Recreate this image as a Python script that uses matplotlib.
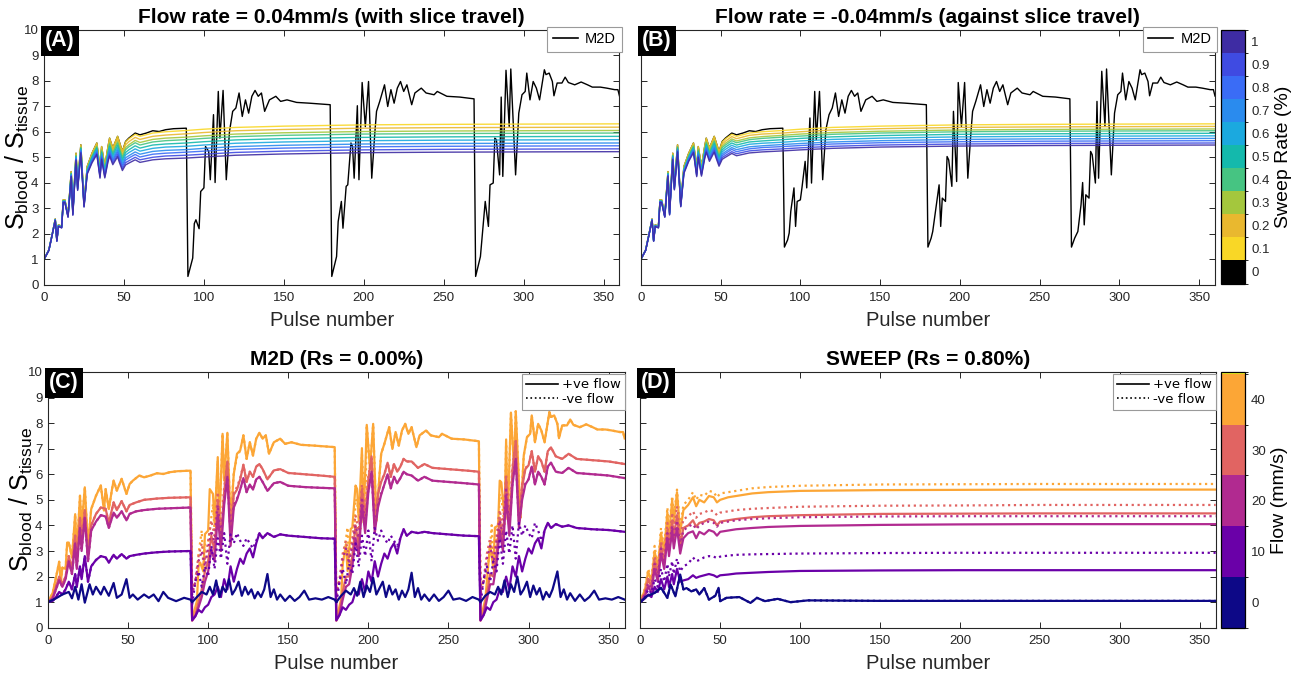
import matplotlib
matplotlib.use("Agg")
import numpy as np
import matplotlib.pyplot as plt
from matplotlib.colors import ListedColormap, BoundaryNorm
from matplotlib.cm import ScalarMappable
from matplotlib.lines import Line2D

# ---------------- data ----------------

# M2D, +0.04 mm/s (panel A black line)
m2d_a_x = [0, 3, 5, 7, 8, 9, 11, 12, 13, 15, 17, 18, 20, 21, 23, 25, 27, 30, 33, 35, 36, 38, 40, 41, 43,
           46, 47, 49, 51, 53, 57, 60, 64, 68, 72, 76, 81, 89,
           90, 93, 94, 95, 97, 98, 100, 101, 103, 104, 106, 107, 109, 110, 112, 114, 116, 118, 120, 122,
           124, 126, 128, 130, 132, 134, 136, 138, 141, 145, 148, 152, 158, 166, 179,
           180, 183, 184, 186, 187, 189, 190, 192, 193, 194, 196, 197, 199, 201, 203, 205, 207, 208, 210,
           213, 215, 217, 219, 221, 223, 225, 227, 230, 232, 236, 239, 244, 246, 252, 260, 269,
           270, 273, 275, 276, 278, 279, 281, 282, 283, 285, 286, 287, 289, 291, 292, 295, 297, 299, 301,
           302, 304, 306, 308, 310, 313, 314, 316, 318, 319, 321, 324, 326, 328, 332, 336, 340, 343, 348,
           352, 357, 359, 360]
m2d_a_y = [1.00, 1.37, 1.96, 2.58, 1.76, 2.35, 2.30, 3.33, 3.33, 2.75, 4.44, 2.88, 5.16, 3.92, 5.49, 3.20,
           4.64, 5.16, 5.56, 4.58, 5.42, 4.64, 5.42, 5.75, 5.36, 5.82, 5.62, 5.23, 5.62, 5.75, 5.95, 5.88,
           5.95, 6.04, 6.01, 6.08, 6.12, 6.14,
           0.33, 1.05, 2.40, 2.55, 2.20, 3.66, 3.80, 5.42, 5.23, 4.12, 6.67, 4.01, 7.58, 5.75, 7.62, 4.12,
           6.01, 6.80, 6.93, 7.52, 6.60, 7.25, 6.73, 7.39, 7.62, 7.39, 7.52, 6.80, 7.25, 7.39, 7.19, 7.25,
           7.15, 7.12, 7.06,
           0.33, 1.11, 2.48, 3.27, 2.22, 3.86, 3.92, 5.56, 5.42, 4.18, 7.02, 4.12, 7.93, 6.20, 7.97, 4.18,
           6.01, 6.80, 7.19, 7.84, 6.99, 7.65, 7.12, 7.71, 7.97, 7.58, 7.84, 7.06, 7.52, 7.71, 7.52, 7.45,
           7.58, 7.39, 7.36, 7.29,
           0.33, 1.11, 2.55, 3.27, 2.29, 3.92, 3.99, 5.75, 5.69, 4.31, 7.36, 4.25, 8.41, 6.21, 8.46, 4.31,
           6.73, 7.45, 7.58, 8.30, 7.25, 7.97, 7.71, 7.25, 8.43, 8.24, 8.30, 7.97, 7.41, 7.91, 7.91, 8.14,
           7.93, 7.84, 7.95, 7.84, 7.75, 7.75, 7.71, 7.65, 7.65, 7.40]

# M2D, -0.04 mm/s (panel B black line)
m2d_b_x = [0, 3, 5, 7, 8, 9, 11, 12, 13, 15, 17, 18, 20, 21, 23, 25, 27, 30, 33, 35, 36, 38, 40, 41, 43,
           46, 47, 49, 51, 53, 57, 60, 64, 68, 72, 76, 81, 89,
           90, 92, 93, 94, 96, 97, 98, 100, 101, 103, 104, 106, 107, 109, 110, 112, 114, 116, 118, 120, 122,
           124, 126, 128, 130, 132, 134, 136, 138, 141, 145, 148, 152, 158, 166, 179,
           180, 182, 183, 185, 187, 188, 189, 191, 192, 193, 195, 196, 198, 199, 201, 203, 205, 207, 208, 210,
           213, 215, 217, 219, 221, 223, 225, 227, 230, 232, 236, 239, 244, 246, 252, 260, 269,
           270, 272, 274, 276, 277, 278, 279, 281, 282, 283, 285, 286, 287, 289, 291, 292, 295, 297, 299, 301,
           302, 304, 306, 308, 310, 313, 314, 316, 318, 319, 321, 324, 326, 328, 332, 336, 340, 343, 348,
           352, 357, 359, 360]
m2d_b_y = [1.00, 1.37, 1.96, 2.58, 1.76, 2.35, 2.30, 3.33, 3.33, 2.75, 4.44, 2.88, 5.16, 3.92, 5.49, 3.20,
           4.64, 5.16, 5.56, 4.58, 5.42, 4.64, 5.42, 5.75, 5.36, 5.82, 5.62, 5.23, 5.62, 5.75, 5.95, 5.88,
           5.95, 6.04, 6.01, 6.08, 6.12, 6.14,
           1.48, 1.76, 2.03, 2.88, 3.80, 2.29, 3.27, 3.33, 3.80, 4.84, 3.80, 6.54, 3.99, 7.58, 5.69, 7.58,
           4.12, 6.08, 6.67, 6.93, 7.52, 6.60, 7.25, 6.73, 7.39, 7.62, 7.39, 7.52, 6.80, 7.25, 7.39, 7.19,
           7.25, 7.15, 7.12, 7.06,
           1.48, 1.83, 2.09, 3.00, 3.92, 2.29, 3.40, 3.27, 5.03, 4.90, 3.86, 6.80, 4.05, 7.93, 6.21, 7.93,
           4.18, 6.01, 6.80, 7.19, 7.84, 6.99, 7.65, 7.12, 7.71, 7.97, 7.58, 7.84, 7.06, 7.52, 7.71, 7.52,
           7.45, 7.58, 7.39, 7.36, 7.29,
           1.48, 1.83, 2.09, 3.14, 4.01, 2.35, 3.53, 3.40, 5.23, 5.10, 3.99, 7.19, 4.18, 8.37, 6.21, 8.46,
           4.31, 6.73, 7.45, 7.58, 8.30, 7.25, 7.97, 7.71, 7.25, 8.43, 8.24, 8.30, 7.97, 7.41, 7.91, 7.91,
           8.14, 7.93, 7.84, 7.95, 7.84, 7.75, 7.75, 7.71, 7.65, 7.65, 7.40]

# SWEEP curves, sweep rate 0.1 ... 1.0 %
sweep_rates = [0.1, 0.2, 0.3, 0.4, 0.5, 0.6, 0.7, 0.8, 0.9, 1.0]
sweep_x = [0, 3, 5, 7, 8, 9, 11, 12, 13, 15, 17, 18, 20, 21, 23, 25, 27, 30, 33, 35, 36, 38, 40, 41, 43,
           46, 47, 49, 51, 53, 57, 60, 68, 76, 89, 100, 120, 150, 200, 250, 300, 360]

a_r01 = [1.00, 1.37, 1.96, 2.58, 1.76, 2.35, 2.30, 3.33, 3.33, 2.75, 4.44, 2.88, 5.16, 3.92, 5.49, 3.20,
         4.64, 5.16, 5.56, 4.58, 5.42, 4.64, 5.42, 5.75, 5.36, 5.82, 5.62, 5.23, 5.60, 5.72, 5.90, 5.82,
         5.95, 6.00, 6.05, 6.10, 6.17, 6.22, 6.27, 6.29, 6.30, 6.31]
a_r02 = [1.00, 1.37, 1.96, 2.57, 1.75, 2.34, 2.29, 3.32, 3.32, 2.74, 4.42, 2.86, 5.13, 3.89, 5.45, 3.18,
         4.60, 5.11, 5.51, 4.53, 5.36, 4.59, 5.35, 5.67, 5.28, 5.72, 5.52, 5.14, 5.49, 5.61, 5.78, 5.70,
         5.82, 5.87, 5.92, 5.97, 6.04, 6.09, 6.14, 6.16, 6.17, 6.18]
a_r03 = [1.00, 1.37, 1.95, 2.57, 1.75, 2.34, 2.28, 3.31, 3.31, 2.73, 4.39, 2.84, 5.09, 3.87, 5.41, 3.16,
         4.57, 5.07, 5.45, 4.48, 5.30, 4.53, 5.28, 5.58, 5.20, 5.63, 5.43, 5.05, 5.38, 5.49, 5.66, 5.58,
         5.70, 5.75, 5.79, 5.84, 5.91, 5.96, 6.01, 6.03, 6.04, 6.05]
a_r04 = [1.00, 1.36, 1.95, 2.56, 1.74, 2.33, 2.28, 3.30, 3.30, 2.72, 4.37, 2.83, 5.07, 3.85, 5.38, 3.15,
         4.54, 5.03, 5.41, 4.45, 5.25, 4.49, 5.22, 5.52, 5.15, 5.56, 5.36, 4.98, 5.30, 5.41, 5.57, 5.48,
         5.60, 5.65, 5.69, 5.74, 5.81, 5.86, 5.91, 5.93, 5.94, 5.95]
a_r05 = [1.00, 1.36, 1.95, 2.56, 1.74, 2.32, 2.27, 3.28, 3.28, 2.70, 4.35, 2.81, 5.03, 3.82, 5.35, 3.13,
         4.50, 4.99, 5.36, 4.40, 5.19, 4.44, 5.15, 5.43, 5.07, 5.46, 5.26, 4.89, 5.19, 5.29, 5.45, 5.36,
         5.48, 5.52, 5.56, 5.61, 5.68, 5.73, 5.78, 5.80, 5.81, 5.82]
a_r06 = [1.00, 1.36, 1.94, 2.55, 1.73, 2.32, 2.26, 3.27, 3.27, 2.69, 4.33, 2.79, 5.00, 3.79, 5.31, 3.11,
         4.47, 4.94, 5.30, 4.35, 5.13, 4.38, 5.08, 5.35, 4.99, 5.36, 5.16, 4.80, 5.09, 5.18, 5.33, 5.24,
         5.35, 5.40, 5.43, 5.48, 5.55, 5.60, 5.65, 5.67, 5.68, 5.69]
a_r07 = [1.00, 1.36, 1.94, 2.55, 1.73, 2.31, 2.25, 3.26, 3.26, 2.68, 4.30, 2.78, 4.97, 3.77, 5.27, 3.10,
         4.43, 4.90, 5.25, 4.30, 5.07, 4.33, 5.01, 5.27, 4.91, 5.27, 5.07, 4.71, 4.98, 5.06, 5.21, 5.12,
         5.23, 5.27, 5.30, 5.35, 5.42, 5.47, 5.52, 5.54, 5.55, 5.56]
a_r08 = [1.00, 1.35, 1.94, 2.54, 1.72, 2.30, 2.24, 3.25, 3.25, 2.67, 4.28, 2.76, 4.94, 3.75, 5.24, 3.08,
         4.40, 4.86, 5.20, 4.26, 5.02, 4.28, 4.95, 5.20, 4.85, 5.19, 4.99, 4.64, 4.89, 4.97, 5.11, 5.01,
         5.12, 5.16, 5.20, 5.24, 5.31, 5.36, 5.41, 5.43, 5.44, 5.45]
a_r09 = [1.00, 1.35, 1.93, 2.53, 1.71, 2.30, 2.24, 3.24, 3.24, 2.66, 4.26, 2.74, 4.91, 3.72, 5.20, 3.06,
         4.37, 4.82, 5.15, 4.22, 4.97, 4.23, 4.88, 5.12, 4.77, 5.10, 4.90, 4.55, 4.79, 4.86, 5.00, 4.90,
         5.00, 5.05, 5.08, 5.12, 5.19, 5.24, 5.29, 5.31, 5.32, 5.33]
a_r10 = [1.00, 1.35, 1.93, 2.53, 1.71, 2.29, 2.23, 3.23, 3.23, 2.65, 4.24, 2.73, 4.88, 3.70, 5.17, 3.05,
         4.34, 4.78, 5.11, 4.18, 4.92, 4.19, 4.82, 5.05, 4.71, 5.02, 4.82, 4.48, 4.70, 4.77, 4.90, 4.80,
         4.90, 4.94, 4.97, 5.01, 5.08, 5.13, 5.18, 5.20, 5.21, 5.22]

b_r01 = list(a_r01)
b_r02 = [1.00, 1.37, 1.96, 2.57, 1.75, 2.34, 2.29, 3.32, 3.32, 2.74, 4.42, 2.86, 5.13, 3.90, 5.46, 3.18,
         4.61, 5.12, 5.51, 4.54, 5.37, 4.59, 5.36, 5.68, 5.30, 5.75, 5.55, 5.16, 5.52, 5.63, 5.81, 5.73,
         5.86, 5.91, 5.95, 6.00, 6.07, 6.12, 6.17, 6.19, 6.20, 6.21]
b_r03 = [1.00, 1.37, 1.95, 2.57, 1.75, 2.34, 2.28, 3.31, 3.31, 2.73, 4.40, 2.85, 5.10, 3.87, 5.42, 3.17,
         4.58, 5.08, 5.47, 4.50, 5.32, 4.55, 5.30, 5.62, 5.24, 5.67, 5.47, 5.09, 5.44, 5.55, 5.72, 5.64,
         5.76, 5.81, 5.86, 5.91, 5.97, 6.02, 6.07, 6.09, 6.10, 6.11]
b_r04 = [1.00, 1.36, 1.95, 2.56, 1.74, 2.33, 2.28, 3.30, 3.30, 2.72, 4.38, 2.83, 5.08, 3.85, 5.40, 3.15,
         4.55, 5.05, 5.43, 4.47, 5.28, 4.51, 5.26, 5.57, 5.19, 5.62, 5.42, 5.04, 5.38, 5.48, 5.65, 5.57,
         5.69, 5.74, 5.79, 5.83, 5.90, 5.95, 6.00, 6.02, 6.03, 6.04]
b_r05 = [1.00, 1.36, 1.95, 2.56, 1.74, 2.32, 2.27, 3.28, 3.28, 2.70, 4.36, 2.82, 5.05, 3.83, 5.36, 3.14,
         4.52, 5.02, 5.39, 4.43, 5.23, 4.47, 5.20, 5.50, 5.13, 5.54, 5.34, 4.97, 5.29, 5.40, 5.56, 5.48,
         5.60, 5.64, 5.69, 5.74, 5.80, 5.85, 5.90, 5.92, 5.93, 5.94]
b_r06 = [1.00, 1.36, 1.94, 2.55, 1.73, 2.32, 2.26, 3.27, 3.27, 2.69, 4.34, 2.80, 5.02, 3.81, 5.33, 3.12,
         4.49, 4.98, 5.34, 4.39, 5.18, 4.42, 5.15, 5.44, 5.06, 5.47, 5.27, 4.90, 5.21, 5.31, 5.47, 5.39,
         5.51, 5.55, 5.59, 5.64, 5.70, 5.75, 5.80, 5.82, 5.83, 5.84]
b_r07 = [1.00, 1.36, 1.94, 2.55, 1.73, 2.31, 2.25, 3.26, 3.26, 2.68, 4.32, 2.78, 4.99, 3.78, 5.30, 3.10,
         4.45, 4.94, 5.30, 4.35, 5.13, 4.38, 5.09, 5.37, 5.00, 5.39, 5.19, 4.83, 5.13, 5.22, 5.38, 5.30,
         5.41, 5.45, 5.50, 5.54, 5.60, 5.65, 5.70, 5.72, 5.73, 5.74]
b_r08 = [1.00, 1.35, 1.94, 2.54, 1.72, 2.30, 2.24, 3.25, 3.25, 2.67, 4.30, 2.77, 4.96, 3.76, 5.27, 3.09,
         4.43, 4.91, 5.26, 4.31, 5.09, 4.34, 5.04, 5.32, 4.95, 5.33, 5.13, 4.77, 5.06, 5.15, 5.31, 5.22,
         5.33, 5.38, 5.42, 5.46, 5.52, 5.57, 5.61, 5.63, 5.64, 5.65]
b_r09 = [1.00, 1.35, 1.93, 2.53, 1.71, 2.30, 2.24, 3.24, 3.24, 2.66, 4.28, 2.75, 4.93, 3.74, 5.24, 3.07,
         4.40, 4.87, 5.22, 4.27, 5.04, 4.30, 4.99, 5.25, 4.89, 5.26, 5.06, 4.71, 4.99, 5.07, 5.22, 5.14,
         5.25, 5.29, 5.33, 5.37, 5.43, 5.48, 5.52, 5.54, 5.55, 5.56]
b_r10 = [1.00, 1.35, 1.93, 2.53, 1.71, 2.29, 2.23, 3.23, 3.23, 2.65, 4.26, 2.74, 4.91, 3.72, 5.21, 3.06,
         4.37, 4.84, 5.18, 4.24, 5.00, 4.26, 4.94, 5.20, 4.84, 5.20, 5.00, 4.65, 4.92, 5.00, 5.15, 5.06,
         5.17, 5.21, 5.25, 5.29, 5.35, 5.40, 5.44, 5.46, 5.47, 5.48]

# Panel C: M2D for flows 10/20/30 mm/s (40 mm/s is the M2D line of A/B)
c_x = [0, 3, 5, 7, 9, 11, 13, 15, 17, 18, 20, 21, 23, 25, 27, 30, 33, 36, 38, 41, 43, 46, 49, 51, 55,
       60, 68, 76, 89,
       90, 92, 94, 96, 98, 100, 102, 104, 106, 108, 110, 112, 114, 116, 118, 120, 122, 124, 126, 128,
       130, 132, 134, 137, 141, 145, 150, 160, 170, 179,
       180, 182, 184, 186, 188, 190, 192, 194, 196, 198, 200, 202, 204, 206, 208, 210, 212, 214, 216,
       218, 220, 222, 224, 227, 231, 235, 240, 250, 260, 269,
       270, 272, 274, 276, 278, 280, 282, 284, 286, 288, 290, 292, 294, 296, 298, 300, 302, 304, 306,
       308, 310, 312, 314, 317, 321, 325, 330, 340, 350, 360]

c30_pos = [1.0, 1.2, 1.6, 2.0, 1.7, 2.0, 2.8, 2.3, 3.6, 2.5, 4.3, 3.3, 4.6, 2.8, 4.0, 4.45, 4.7, 4.65, 4.1,
           4.9, 4.6, 4.95, 4.55, 4.8, 4.9, 5.0, 5.05, 5.08, 5.1,
           0.28, 0.5, 1.0, 1.5, 2.2, 2.6, 3.6, 3.0, 5.0, 3.5, 5.3, 6.5, 3.6, 5.2, 5.4, 5.8, 6.37, 5.7, 6.1,
           5.9, 6.3, 6.4, 6.2, 5.8, 6.15, 6.2, 6.05, 6.0, 5.95, 5.9,
           0.28, 0.6, 1.4, 2.0, 2.0, 2.8, 4.0, 3.2, 5.4, 4.2, 5.8, 6.7, 4.0, 5.2, 5.7, 6.0, 6.45, 5.9, 6.4,
           6.1, 6.3, 6.6, 6.5, 6.5, 6.25, 6.4, 6.25, 6.2, 6.15, 6.1,
           0.28, 0.6, 1.3, 2.1, 2.0, 2.9, 4.3, 3.4, 5.8, 4.0, 6.2, 7.3, 4.2, 5.5, 6.2, 6.35, 6.9, 6.1, 6.7,
           6.5, 6.1, 6.9, 7.05, 6.7, 6.6, 6.8, 6.6, 6.55, 6.5, 6.4]
c30_neg = (c30_pos[:29]
           + [1.4, 1.9, 2.8, 3.3, 2.6, 3.4, 4.2, 3.6, 5.3, 3.8, 5.5, 6.5, 3.9, 5.3, 5.5, 5.85] + c30_pos[45:59]
           + [1.4, 1.9, 2.9, 3.4, 2.7, 3.5, 4.4, 3.8, 5.6, 4.4, 5.9, 6.7, 4.2, 5.3, 5.75, 6.0] + c30_pos[75:89]
           + [1.4, 1.9, 2.9, 3.5, 2.7, 3.6, 4.6, 3.9, 6.0, 4.3, 6.3, 7.3, 4.4, 5.6, 6.25, 6.35] + c30_pos[105:])

c20_pos = [1.0, 1.15, 1.5, 1.85, 1.6, 1.9, 2.6, 2.1, 3.3, 2.3, 3.9, 3.0, 4.3, 2.6, 3.8, 4.15, 4.4, 4.35, 3.9,
           4.5, 4.3, 4.55, 4.2, 4.45, 4.55, 4.6, 4.65, 4.67, 4.7,
           0.28, 0.45, 0.8, 1.2, 1.8, 2.2, 3.1, 2.6, 4.4, 3.0, 4.8, 5.9, 3.2, 4.7, 5.0, 5.4, 5.85, 5.3, 5.6,
           5.4, 5.8, 5.9, 5.7, 5.35, 5.65, 5.7, 5.55, 5.5, 5.47, 5.45,
           0.28, 0.5, 1.1, 1.6, 1.7, 2.4, 3.5, 2.8, 4.8, 3.7, 5.3, 6.1, 3.7, 4.7, 5.2, 5.6, 6.0, 5.45, 5.9,
           5.65, 5.85, 6.1, 6.0, 5.95, 5.75, 5.9, 5.75, 5.7, 5.65, 5.6,
           0.28, 0.5, 1.1, 1.7, 1.7, 2.5, 3.8, 3.0, 5.1, 3.6, 5.6, 6.6, 3.9, 5.0, 5.6, 5.8, 6.3, 5.6, 6.1,
           5.9, 5.6, 6.3, 6.45, 6.1, 6.05, 6.25, 6.05, 6.0, 5.95, 5.85]
c20_neg = (c20_pos[:29]
           + [1.3, 1.8, 2.6, 3.0, 2.4, 3.1, 3.8, 3.3, 4.8, 3.5, 5.0, 5.9, 3.6, 4.8, 5.05, 5.4] + c20_pos[45:59]
           + [1.3, 1.8, 2.7, 3.1, 2.5, 3.2, 4.0, 3.5, 5.1, 4.0, 5.4, 6.1, 3.9, 4.8, 5.25, 5.6] + c20_pos[75:89]
           + [1.3, 1.8, 2.7, 3.2, 2.5, 3.3, 4.2, 3.6, 5.4, 3.9, 5.7, 6.6, 4.1, 5.1, 5.65, 5.8] + c20_pos[105:])

c10_pos = [1.0, 1.05, 1.2, 1.4, 1.3, 1.5, 1.8, 1.5, 2.1, 1.6, 2.4, 1.9, 2.8, 1.8, 2.4, 2.65, 2.8, 2.75, 2.55,
           2.85, 2.7, 2.88, 2.7, 2.8, 2.85, 2.9, 2.95, 2.98, 3.0,
           0.3, 0.45, 0.7, 0.6, 0.8, 0.9, 1.2, 1.3, 1.6, 1.2, 1.9, 1.5, 2.4, 1.8, 2.3, 2.7, 2.5, 2.9, 3.1,
           2.75, 3.3, 3.7, 3.5, 3.7, 3.55, 3.65, 3.6, 3.55, 3.5, 3.48,
           0.3, 0.5, 0.8, 0.7, 0.9, 1.0, 1.4, 1.3, 1.9, 1.4, 2.2, 1.8, 2.6, 2.0, 2.5, 2.9, 2.7, 3.1, 3.3,
           2.9, 3.5, 3.85, 3.6, 3.75, 3.7, 3.75, 3.7, 3.65, 3.6, 3.58,
           0.3, 0.5, 0.8, 0.7, 1.0, 1.1, 1.5, 1.4, 2.0, 1.5, 2.4, 2.0, 2.8, 2.2, 2.7, 3.1, 2.9, 3.3, 3.5,
           3.1, 3.8, 4.1, 3.9, 4.05, 3.95, 4.0, 3.9, 3.85, 3.82, 3.75]
c10_neg = (c10_pos[:29]
           + [0.9, 1.8, 2.2, 1.6, 2.4, 2.0, 3.2, 2.3, 3.5, 2.7, 3.7, 2.5, 3.65, 3.3, 3.7, 3.4, 3.2, 3.5, 3.3,
              3.1, 3.4] + c10_pos[50:59]
           + [0.9, 1.8, 2.3, 1.7, 2.5, 2.1, 3.3, 2.4, 3.6, 2.8, 3.8, 2.6, 3.9, 3.4, 3.8, 3.5, 3.3, 3.6, 3.4,
              3.2, 3.5] + c10_pos[80:89]
           + [0.9, 1.9, 2.4, 1.8, 2.6, 2.2, 3.5, 2.5, 3.8, 2.9, 4.0, 2.7, 4.1, 3.6, 4.0, 3.7, 3.5, 4.1, 3.8,
              3.4, 3.8] + c10_pos[110:])

# flow 0 mm/s (identical for both flow directions)
c0_x = [0, 5, 9, 13, 15, 17, 19, 21, 23, 26, 28, 30, 33, 35, 38, 41, 43, 46, 49, 51, 53, 56, 60, 63, 66,
        69, 72, 75, 80, 85, 89,
        90, 93, 96, 99, 101, 103, 105, 107, 109, 111, 113, 115, 117, 119, 121, 123, 125, 127, 129, 131,
        133, 135, 137, 139, 141, 143, 145, 148, 151, 154, 157, 160, 163, 167, 171, 175, 179,
        180, 183, 186, 189, 191, 193, 195, 197, 199, 201, 203, 205, 207, 209, 211, 213, 215, 217, 219,
        221, 223, 225, 227, 229, 231, 233, 235, 238, 241, 244, 247, 250, 253, 257, 261, 265, 269,
        270, 273, 276, 279, 281, 283, 285, 287, 289, 291, 293, 295, 297, 299, 301, 303, 305, 307, 309,
        311, 313, 315, 318, 320, 322, 324, 326, 329, 332, 335, 338, 341, 344, 348, 352, 356, 360]
c0_y = [1.0, 1.15, 1.3, 1.4, 1.15, 1.6, 1.1, 1.7, 0.98, 1.7, 1.3, 1.6, 1.3, 1.6, 1.25, 1.75, 1.17, 1.3,
        1.9, 1.17, 1.3, 1.1, 1.3, 1.17, 1.3, 1.04, 1.4, 1.17, 1.04, 1.17, 1.1,
        1.0, 1.2, 1.4, 1.3, 1.6, 1.3, 1.85, 1.2, 1.6, 1.4, 1.9, 1.3, 1.5, 1.8, 1.25, 1.6, 1.3, 1.5, 1.15,
        1.4, 1.2, 1.5, 2.1, 1.2, 1.5, 1.1, 1.3, 1.05, 1.25, 1.05, 1.2, 1.45, 1.1, 1.15, 1.1, 1.2, 1.1,
        1.0, 1.25, 1.45, 1.3, 1.55, 1.25, 1.8, 1.2, 1.65, 1.4, 1.95, 1.3, 1.55, 1.8, 1.2, 1.65, 1.3, 1.5,
        1.1, 1.45, 1.2, 1.5, 2.15, 1.2, 1.55, 1.1, 1.3, 1.05, 1.3, 1.05, 1.2, 1.45, 1.1, 1.15, 1.05, 1.2,
        1.1,
        1.0, 1.25, 1.4, 1.3, 1.6, 1.3, 1.85, 1.2, 1.7, 1.4, 2.0, 1.3, 1.5, 1.8, 1.2, 1.65, 1.3, 1.55, 1.1,
        1.4, 1.2, 1.5, 2.2, 1.2, 1.5, 1.1, 1.35, 1.05, 1.3, 1.05, 1.2, 1.45, 1.1, 1.15, 1.1, 1.2, 1.1]

# Panel D: SWEEP (Rs = 0.80 %)
d_x = [0, 3, 5, 7, 9, 11, 13, 15, 17, 18, 20, 21, 23, 25, 27, 30, 33, 35, 37, 40, 43, 46, 48, 50, 55,
       60, 70, 80, 100, 150, 200, 250, 360]
d40_pos = [1.0, 1.5, 2.2, 1.8, 3.0, 2.3, 3.7, 3.0, 4.5, 3.6, 5.0, 4.1, 5.3, 3.7, 4.6, 4.8, 5.1, 4.75, 5.0,
           4.9, 5.15, 5.1, 4.9, 5.0, 5.1, 5.15, 5.25, 5.3, 5.35, 5.38, 5.39, 5.4, 5.4]
d40_neg = [1.0, 1.55, 2.3, 1.9, 3.2, 2.4, 3.9, 3.1, 4.7, 3.8, 5.15, 4.3, 5.4, 3.9, 4.8, 5.0, 5.3, 5.0, 5.2,
           5.15, 5.35, 5.3, 5.1, 5.25, 5.3, 5.35, 5.45, 5.5, 5.55, 5.6, 5.61, 5.62, 5.62]
d30_pos = [1.0, 1.35, 1.9, 1.6, 2.6, 2.0, 3.2, 2.6, 3.8, 3.1, 4.2, 3.5, 4.4, 3.2, 3.9, 4.0, 4.2, 3.95, 4.1,
           4.15, 4.25, 4.2, 4.0, 4.15, 4.2, 4.25, 4.32, 4.36, 4.4, 4.45, 4.46, 4.47, 4.47]
d30_neg = [1.0, 1.4, 2.0, 1.7, 2.8, 2.2, 3.4, 2.8, 4.1, 3.3, 4.5, 3.8, 4.75, 3.5, 4.25, 4.35, 4.55, 4.3,
           4.45, 4.5, 4.6, 4.55, 4.4, 4.5, 4.55, 4.6, 4.65, 4.68, 4.73, 4.77, 4.78, 4.8, 4.8]
d20_pos = [1.0, 1.25, 1.6, 1.4, 2.3, 1.8, 2.9, 2.3, 3.5, 2.8, 3.8, 3.1, 3.9, 2.9, 3.5, 3.7, 3.77, 3.5, 3.75,
           3.65, 3.82, 3.75, 3.6, 3.75, 3.8, 3.85, 3.9, 3.94, 3.98, 4.02, 4.04, 4.05, 4.05]
d20_neg = [1.0, 1.3, 1.75, 1.5, 2.5, 2.0, 3.1, 2.5, 3.7, 3.0, 4.0, 3.4, 4.2, 3.2, 3.8, 3.95, 4.05, 3.85,
           4.0, 4.1, 4.15, 4.1, 3.95, 4.1, 4.15, 4.2, 4.25, 4.28, 4.32, 4.35, 4.36, 4.36, 4.36]
d10_pos = [1.0, 1.15, 1.3, 1.2, 1.6, 1.4, 1.9, 1.5, 2.0, 1.6, 2.1, 1.7, 2.3, 1.8, 1.85, 1.9, 2.05, 1.95,
           2.0, 2.05, 2.1, 2.05, 1.98, 2.05, 2.08, 2.12, 2.15, 2.18, 2.22, 2.24, 2.25, 2.25, 2.25]
d10_neg = [1.0, 1.2, 1.5, 1.35, 1.9, 1.6, 2.3, 1.8, 2.5, 2.0, 2.6, 2.1, 2.7, 2.2, 2.4, 2.5, 2.75, 2.6,
           2.65, 2.75, 2.8, 2.78, 2.72, 2.78, 2.82, 2.85, 2.87, 2.88, 2.9, 2.92, 2.93, 2.93, 2.93]
d0_x = [0, 4, 9, 13, 17, 19, 22, 25, 27, 29, 32, 35, 37, 40, 43, 47, 49, 50, 54, 62, 69, 73, 78, 86, 94,
        105, 150, 200, 360]
d0_y = [1.0, 1.23, 1.36, 1.56, 1.17, 1.69, 1.23, 2.08, 1.5, 1.55, 1.42, 1.5, 1.3, 1.55, 1.1, 1.25, 1.56,
        1.04, 1.17, 1.2, 0.97, 1.17, 1.04, 1.13, 1.0, 1.07, 1.05, 1.05, 1.05]

flow_ticks = [0, 10, 20, 30, 40]
sweep_ticks = [0, 0.1, 0.2, 0.3, 0.4, 0.5, 0.6, 0.7, 0.8, 0.9, 1]

# colours
sweep_colors = ["#F9D726", "#E9B82F", "#A4C73D", "#46C482", "#14B9AC",
                "#1BA9DF", "#2A8BEE", "#3A6CF6", "#3F4BE2", "#3E2CA3"]
flow_colors = ["#0D0887", "#6A00A8", "#B12A90", "#E16462", "#FCA636"]
TXT = "#262626"

plt.rcParams["font.family"] = ["Liberation Sans Narrow", "Liberation Sans", "DejaVu Sans"]
plt.rcParams["mathtext.fontset"] = "custom"
plt.rcParams["mathtext.rm"] = "Liberation Sans"


def style_axes(ax, label, show_y=True):
    ax.set_xlim(0, 360)
    ax.set_ylim(0, 10)
    ax.set_xticks(range(0, 360, 50))
    ax.set_yticks(range(0, 11))
    ax.tick_params(direction="in", top=True, right=True, length=4, width=0.7,
                   labelsize=9.5, colors=TXT)
    ax.tick_params(axis="x", pad=5)
    ax.tick_params(axis="y", pad=4)
    if not show_y:
        ax.tick_params(labelleft=False)
    else:
        # the ylabel anchor is the right-hand edge of the rotated text
        ax.set_ylabel(r"$\mathrm{S}_{\mathrm{blood}}$ / $\mathrm{S}_{\mathrm{tissue}}$",
                      fontsize=18, family="Liberation Sans")
        ax.yaxis.set_label_coords(-0.023, 0.5)
    for sp in ax.spines.values():
        sp.set_linewidth(0.8)
        sp.set_color(TXT)
    ax.set_xlabel("Pulse number", fontsize=14.5, family="Liberation Sans", labelpad=5, color=TXT)
    ax.text(0.002, 0.998, label, transform=ax.transAxes, ha="left", va="top", color="white",
            fontsize=15.5, fontweight="bold", zorder=10,
            bbox=dict(facecolor="black", edgecolor="none", boxstyle="square,pad=0.2"))


def sweep_panel(ax, m2d_x, m2d_y, curves, title, label, show_y):
    # M2D underneath, sweep curves on top (largest rate drawn last)
    ax.plot(m2d_x, m2d_y, color="black", lw=1.0)
    for ys, col in zip(curves, sweep_colors):
        ax.plot(sweep_x, ys, color=col, lw=1.0, alpha=0.9)
    ax.set_title(title, fontsize=15, fontweight="bold", pad=5)
    leg = ax.legend([Line2D([], [], color="black", lw=1.2)], ["M2D"], loc="upper right",
                    bbox_to_anchor=(1.004, 1.012), fancybox=False, edgecolor="#9a9a9a",
                    handlelength=1.7, handletextpad=0.5, borderaxespad=0, framealpha=1,
                    prop={"family": "Liberation Sans", "size": 10.5})
    leg.get_frame().set_linewidth(0.8)
    style_axes(ax, label, show_y)


def flow_legend(ax):
    leg = ax.legend([Line2D([], [], color="black", lw=1.2),
                     Line2D([], [], color="black", lw=1.2, ls=":")],
                    ["+ve flow", "-ve flow"], loc="upper right", bbox_to_anchor=(1.0, 0.99),
                    fancybox=False, edgecolor="#9a9a9a", framealpha=1, borderaxespad=0,
                    handlelength=2.4, handletextpad=0.3, labelspacing=0.1, borderpad=0.3,
                    prop={"family": "Liberation Sans Narrow", "size": 9.5})
    leg.get_frame().set_linewidth(0.8)


def main():
    fig = plt.figure(figsize=(12.96, 6.75), dpi=100)
    ax_a = fig.add_axes([0.034, 0.578, 0.444, 0.378])
    ax_b = fig.add_axes([0.4945, 0.578, 0.443, 0.378])
    ax_c = fig.add_axes([0.037, 0.070, 0.445, 0.379])
    ax_d = fig.add_axes([0.494, 0.070, 0.444, 0.379])

    sweep_a = [a_r01, a_r02, a_r03, a_r04, a_r05, a_r06, a_r07, a_r08, a_r09, a_r10]
    sweep_b = [b_r01, b_r02, b_r03, b_r04, b_r05, b_r06, b_r07, b_r08, b_r09, b_r10]
    sweep_panel(ax_a, m2d_a_x, m2d_a_y, sweep_a,
                "Flow rate = 0.04mm/s (with slice travel)", "(A)", True)
    sweep_panel(ax_b, m2d_b_x, m2d_b_y, sweep_b,
                "Flow rate = -0.04mm/s (against slice travel)", "(B)", False)

    # panel C: M2D
    c_pos = [(c_x, c10_pos), (c_x, c20_pos), (c_x, c30_pos), (m2d_a_x, m2d_a_y)]
    c_neg = [(c_x, c10_neg), (c_x, c20_neg), (c_x, c30_neg), (m2d_b_x, m2d_b_y)]
    for (xp, yp), (xn, yn), col in zip(c_pos[::-1], c_neg[::-1], flow_colors[1:][::-1]):
        ax_c.plot(xn, yn, color=col, lw=1.6, ls=":")
        ax_c.plot(xp, yp, color=col, lw=1.6)
    ax_c.plot(c0_x, c0_y, color=flow_colors[0], lw=1.6)
    ax_c.set_title("M2D (Rs = 0.00%)", fontsize=15, fontweight="bold", pad=5)
    flow_legend(ax_c)
    style_axes(ax_c, "(C)", True)

    # panel D: SWEEP
    d_pos = [d10_pos, d20_pos, d30_pos, d40_pos]
    d_neg = [d10_neg, d20_neg, d30_neg, d40_neg]
    for yp, yn, col in zip(d_pos[::-1], d_neg[::-1], flow_colors[1:][::-1]):
        ax_d.plot(d_x, yn, color=col, lw=1.6, ls=":")
        ax_d.plot(d_x, yp, color=col, lw=1.6)
    ax_d.plot(d0_x, d0_y, color=flow_colors[0], lw=1.6, ls=":")
    ax_d.plot(d0_x, d0_y, color=flow_colors[0], lw=1.6)
    ax_d.set_title("SWEEP (Rs = 0.80%)", fontsize=15, fontweight="bold", pad=5)
    flow_legend(ax_d)
    style_axes(ax_d, "(D)", False)

    # colourbars
    cax1 = fig.add_axes([0.9425, 0.580, 0.0185, 0.376])
    cmap1 = ListedColormap(["black"] + sweep_colors)
    bounds1 = np.arange(-0.05, 1.1, 0.1)
    cb1 = fig.colorbar(ScalarMappable(norm=BoundaryNorm(bounds1, cmap1.N), cmap=cmap1), cax=cax1,
                       ticks=sweep_ticks, boundaries=bounds1)
    cb1.ax.set_yticklabels(["%g" % t for t in sweep_ticks])
    cb1.set_label("Sweep Rate (%)", fontsize=14, family="Liberation Sans", labelpad=4)

    cax2 = fig.add_axes([0.9425, 0.070, 0.0185, 0.379])
    cmap2 = ListedColormap(flow_colors + ["#F0F921"])
    bounds2 = [-5, 5, 15, 25, 35, 45, 45.4]
    cb2 = fig.colorbar(ScalarMappable(norm=BoundaryNorm(bounds2, cmap2.N), cmap=cmap2), cax=cax2,
                       ticks=flow_ticks, boundaries=bounds2, spacing="proportional")
    cb2.set_label("Flow (mm/s)", fontsize=14, family="Liberation Sans", labelpad=4)

    for cb in (cb1, cb2):
        cb.ax.tick_params(length=0, labelsize=9.5, colors=TXT, pad=4)
        cb.outline.set_linewidth(0.9)
        cb.outline.set_edgecolor("black")

    fig.savefig("out.png", dpi=100)
    plt.close(fig)
    return 0


if __name__ == "__main__":
    main()
